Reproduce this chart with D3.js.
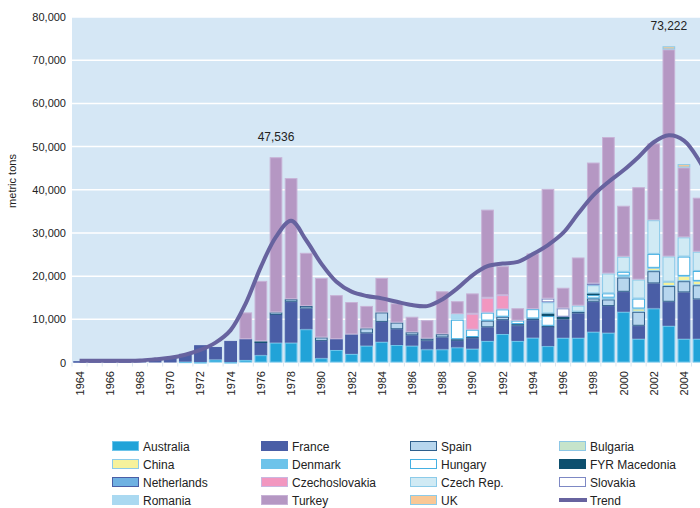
<!DOCTYPE html>
<html>
<head>
<meta charset="utf-8">
<script src="https://cdn.jsdelivr.net/npm/d3@7"></script>
<style>
  body { margin: 0; background: #fff; }
  svg { display: block; font-family: "Liberation Sans", Arial, sans-serif; }
</style>
</head>
<body>
<div id="chart"></div>
<script>
// years shown on the axis (chart continues past the right edge)
var axisYears = d3.range(1964, 2008);
var years = d3.range(1964, 2006);
var tickYears = [1964,1966,1968,1970,1972,1974,1976,1978,1980,1982,1984,1986,1988,1990,1992,1994,1996,1998,2000,2002,2004];

// metric tons per country, 1964 - 2005
var australia = [0,0,0,0,0,0,0,200,100,700,100,600,1700,4600,4600,7700,1000,2900,2000,3900,4800,4050,3900,3050,3050,3500,3200,5000,6600,5000,5750,3800,5730,5730,7130,6900,11750,5500,12530,8500,5500,5500];
var france = [300,300,300,300,400,900,1100,1800,3900,2900,4900,4800,3000,6400,9450,4800,4000,2500,4500,2850,4600,3650,2400,2000,2750,1500,2400,3150,3200,3500,4050,4450,4260,5640,6930,6160,4620,3000,5780,5560,10730,9100];
var netherlands = [0,0,0,0,0,0,0,0,0,0,0,0,0,0,0,0,0,0,0,0,0,0,0,0,0,0,0,0,0,0,0,0,0,0,0,0,0,0,0,0,0,0];
var denmark = [0,0,0,0,0,0,0,0,0,0,0,0,0,0,0,0,0,0,0,0,0,0,0,0,0,0,0,0,0,0,0,0,0,0,0,0,0,0,0,0,0,0];
var spain = [0,0,0,0,0,0,0,0,0,0,0,0,0,600,600,600,800,0,0,1150,2200,1550,700,500,750,400,300,1550,800,400,400,250,0,400,780,1550,3330,3250,2840,3640,2600,3300];
var china = [0,0,0,0,0,0,0,0,0,0,0,0,0,0,0,0,0,0,0,0,0,0,0,0,0,0,0,0,0,0,0,0,0,0,0,400,400,750,770,1000,1220,1000];
var hungary = [0,0,0,0,0,0,0,0,0,0,0,0,0,0,0,0,0,0,0,0,0,0,0,0,0,4500,1700,1850,1700,800,2150,2250,0,0,760,1000,900,2300,3230,0,4470,2300];
var macedonia = [0,0,0,0,0,0,0,0,0,0,0,0,200,0,0,0,0,0,0,0,0,0,0,0,0,0,0,0,0,0,0,600,600,0,400,0,0,0,0,0,0,0];
var czechRep = [0,0,0,0,0,0,0,0,0,0,0,0,0,0,0,0,0,0,0,0,0,0,0,0,0,0,0,0,0,0,0,2600,0,1400,1900,4600,3500,4400,7800,5850,4460,4460];
var slovakia = [0,0,0,0,0,0,0,0,0,0,0,0,0,0,0,0,0,0,0,0,0,0,0,0,0,0,0,0,0,0,0,850,1950,0,400,0,0,0,0,0,0,0];
var czechoslovakia = [0,0,0,0,0,0,0,0,0,0,0,0,0,0,0,0,0,0,0,0,0,0,0,0,0,0,3700,3450,3300,0,0,0,0,0,0,0,0,0,0,0,0,0];
var romania = [0,0,0,0,0,0,0,0,0,0,0,0,0,0,0,0,0,0,0,0,0,0,0,0,0,1300,0,0,0,0,0,0,0,0,0,0,0,0,0,0,0,0];
var bulgaria = [0,0,0,0,0,0,0,0,0,0,0,0,0,0,0,0,0,0,0,0,0,0,0,0,0,0,0,0,0,0,0,0,0,0,0,0,0,0,0,0,0,0];
var turkey = [0,0,0,0,0,0,0,0,0,0,0,6200,14000,35936,28050,12300,13800,10200,7500,5200,8000,4450,3600,4250,9950,3000,4700,20400,6700,2870,12900,25400,4770,11150,28000,31600,11800,21400,17800,47950,16180,12500];
var uk = [0,0,0,0,0,0,0,0,0,0,0,0,0,0,0,0,0,0,0,0,0,0,0,0,0,0,0,0,0,0,0,0,0,0,0,0,0,0,0,722,780,0];

// smoothed trend, 1964 - 2006
var trendYears = d3.range(1964, 2007);
var trend = [400,400,400,400,450,750,1100,1800,2900,4600,7500,13700,22150,29100,32800,28300,22900,18700,16400,15400,14850,14050,13300,13060,14600,17150,20200,22300,22900,23300,25100,27200,30000,34500,38700,41800,44500,47600,51000,52600,51400,46800,40000];

var yTicks = [0,10000,20000,30000,40000,50000,60000,70000,80000];
var labelledYears = [1977, 2003];

// series in stacking order (bottom to top)
var series = [
  {name: "Australia", values: australia, fill: "#21a3d8", stroke: "#6cc4ea"},
  {name: "France", values: france, fill: "#4a5ea6", stroke: "#4a5ea6"},
  {name: "Netherlands", values: netherlands, fill: "#6fb1e2", stroke: "#4a5ea6"},
  {name: "Denmark", values: denmark, fill: "#6dc3ea", stroke: "#6dc3ea"},
  {name: "Spain", values: spain, fill: "#b7d6ee", stroke: "#2f5f8c"},
  {name: "China", values: china, fill: "#f6f29c", stroke: "#8ccbe9"},
  {name: "Hungary", values: hungary, fill: "#ffffff", stroke: "#45b0e2"},
  {name: "FYR Macedonia", values: macedonia, fill: "#0d4f6e", stroke: "#0d4f6e"},
  {name: "Czech Rep.", values: czechRep, fill: "#d0eaf4", stroke: "#8ccbe9"},
  {name: "Slovakia", values: slovakia, fill: "#ffffff", stroke: "#7d88c4"},
  {name: "Czechoslovakia", values: czechoslovakia, fill: "#f297c0", stroke: "#c9b7e0"},
  {name: "Romania", values: romania, fill: "#aad9f1", stroke: "#aad9f1"},
  {name: "Bulgaria", values: bulgaria, fill: "#c6e4cb", stroke: "#8cc7e6"},
  {name: "Turkey", values: turkey, fill: "#b597c3", stroke: "#c7b2d6"},
  {name: "UK", values: uk, fill: "#f9c896", stroke: "#8ccbe9"}
];

// legend is laid out row by row, 4 columns
var legendOrder = ["Australia","France","Spain","Bulgaria",
                   "China","Denmark","Hungary","FYR Macedonia",
                   "Netherlands","Czechoslovakia","Czech Rep.","Slovakia",
                   "Romania","Turkey","UK","Trend"];

var svgWidth = 700;
var svgHeight = 508;
var plotLeft = 72;
var step = 15.11;
var trendColor = "#67639f";

var svg = d3.select("#chart").append("svg")
  .attr("width", svgWidth)
  .attr("height", svgHeight);

var x = d3.scaleBand()
  .domain(axisYears)
  .range([plotLeft, plotLeft + step * axisYears.length])
  .paddingInner(0.16)
  .paddingOuter(0.08);

var y = d3.scaleLinear()
  .domain([0, 80000])
  .range([362.5, 17]);

// plot background
svg.append("rect")
  .attr("x", plotLeft)
  .attr("y", y(80000))
  .attr("width", step * axisYears.length)
  .attr("height", y(0) - y(80000))
  .attr("fill", "#d5e7f5");

// gridlines
svg.append("g")
  .selectAll("line")
  .data(yTicks.slice(1))
  .enter()
  .append("line")
  .attr("x1", plotLeft)
  .attr("x2", plotLeft + step * axisYears.length)
  .attr("y1", d => y(d))
  .attr("y2", d => y(d))
  .attr("stroke", "#ffffff")
  .attr("stroke-width", 1.5);

// small ticks between bars under the baseline
svg.append("g")
  .selectAll("line")
  .data(axisYears)
  .enter()
  .append("line")
  .attr("x1", d => x(d) - x.step() * x.paddingInner() / 2)
  .attr("x2", d => x(d) - x.step() * x.paddingInner() / 2)
  .attr("y1", y(0))
  .attr("y2", y(0) + 4)
  .attr("stroke", "#dbe7f0")
  .attr("stroke-width", 1);

// stacked bars
var table = years.map(function(yr, i) {
  var row = {year: yr};
  series.forEach(function(s) { row[s.name] = s.values[i]; });
  return row;
});
var stack = d3.stack().keys(series.map(s => s.name));
var stacked = stack(table);

var barGroup = svg.append("g");
stacked.forEach(function(layer, k) {
  var s = series[k];
  barGroup.append("g")
    .selectAll("rect")
    .data(layer.filter(d => d[1] - d[0] > 0))
    .enter()
    .append("rect")
    .attr("x", d => x(d.data.year) + 0.5)
    .attr("y", d => y(d[1]) + 0.5)
    .attr("width", x.bandwidth() - 1)
    .attr("height", d => Math.max(0.5, y(d[0]) - y(d[1]) - 1))
    .attr("fill", s.fill)
    .attr("stroke", s.stroke)
    .attr("stroke-width", 1);
});

// value labels on the two peaks
var totals = years.map(function(yr, i) {
  return d3.sum(series, s => s.values[i]);
});
svg.append("g")
  .selectAll("text")
  .data(labelledYears)
  .enter()
  .append("text")
  .attr("x", d => x(d) + x.bandwidth() / 2)
  .attr("y", d => y(totals[years.indexOf(d)]) - 16)
  .attr("text-anchor", "middle")
  .style("font-size", "12px")
  .style("fill", "#222")
  .text(d => d3.format(",")(totals[years.indexOf(d)]));

// trend line
var line = d3.line()
  .x((d, i) => x(trendYears[i]) + x.bandwidth() / 2)
  .y(d => y(d))
  .curve(d3.curveCatmullRom);

svg.append("path")
  .datum(trend)
  .attr("d", line)
  .attr("fill", "none")
  .attr("stroke", trendColor)
  .attr("stroke-width", 4)
  .attr("stroke-linejoin", "round");

// y axis labels
svg.append("g")
  .selectAll("text")
  .data(yTicks)
  .enter()
  .append("text")
  .attr("x", 66)
  .attr("y", d => y(d) + 4)
  .attr("text-anchor", "end")
  .style("font-size", "11px")
  .style("fill", "#222")
  .text(d => d3.format(",")(d));

svg.append("text")
  .attr("transform", "translate(16, 181) rotate(-90)")
  .attr("text-anchor", "middle")
  .style("font-size", "11px")
  .style("fill", "#222")
  .text("metric tons");

// x axis labels, every second year
svg.append("g")
  .selectAll("text")
  .data(tickYears)
  .enter()
  .append("text")
  .attr("transform", d => "translate(" + (x(d) + x.bandwidth() / 2 + 4) + ", 371) rotate(-90)")
  .attr("text-anchor", "end")
  .style("font-size", "11px")
  .style("fill", "#222")
  .text(d => d);

// legend
var colX = [112, 261, 410, 559];
var rowY = [446, 464, 482, 500];
var legend = svg.append("g");
legendOrder.forEach(function(name, i) {
  var cx = colX[i % 4];
  var cy = rowY[Math.floor(i / 4)];
  var item = legend.append("g").attr("transform", "translate(" + cx + "," + cy + ")");
  if (name === "Trend") {
    item.append("line")
      .attr("x1", 0).attr("x2", 28)
      .attr("y1", 0).attr("y2", 0)
      .attr("stroke", trendColor)
      .attr("stroke-width", 4);
  } else {
    var s = series.find(d => d.name === name);
    item.append("rect")
      .attr("x", 0.5).attr("y", -4.5)
      .attr("width", 26).attr("height", 9)
      .attr("fill", s.fill)
      .attr("stroke", s.stroke)
      .attr("stroke-width", 1);
  }
  item.append("text")
    .attr("x", 31)
    .attr("y", 4.5)
    .style("font-size", "12px")
    .style("fill", "#222")
    .text(name);
});
</script>
</body>
</html>
